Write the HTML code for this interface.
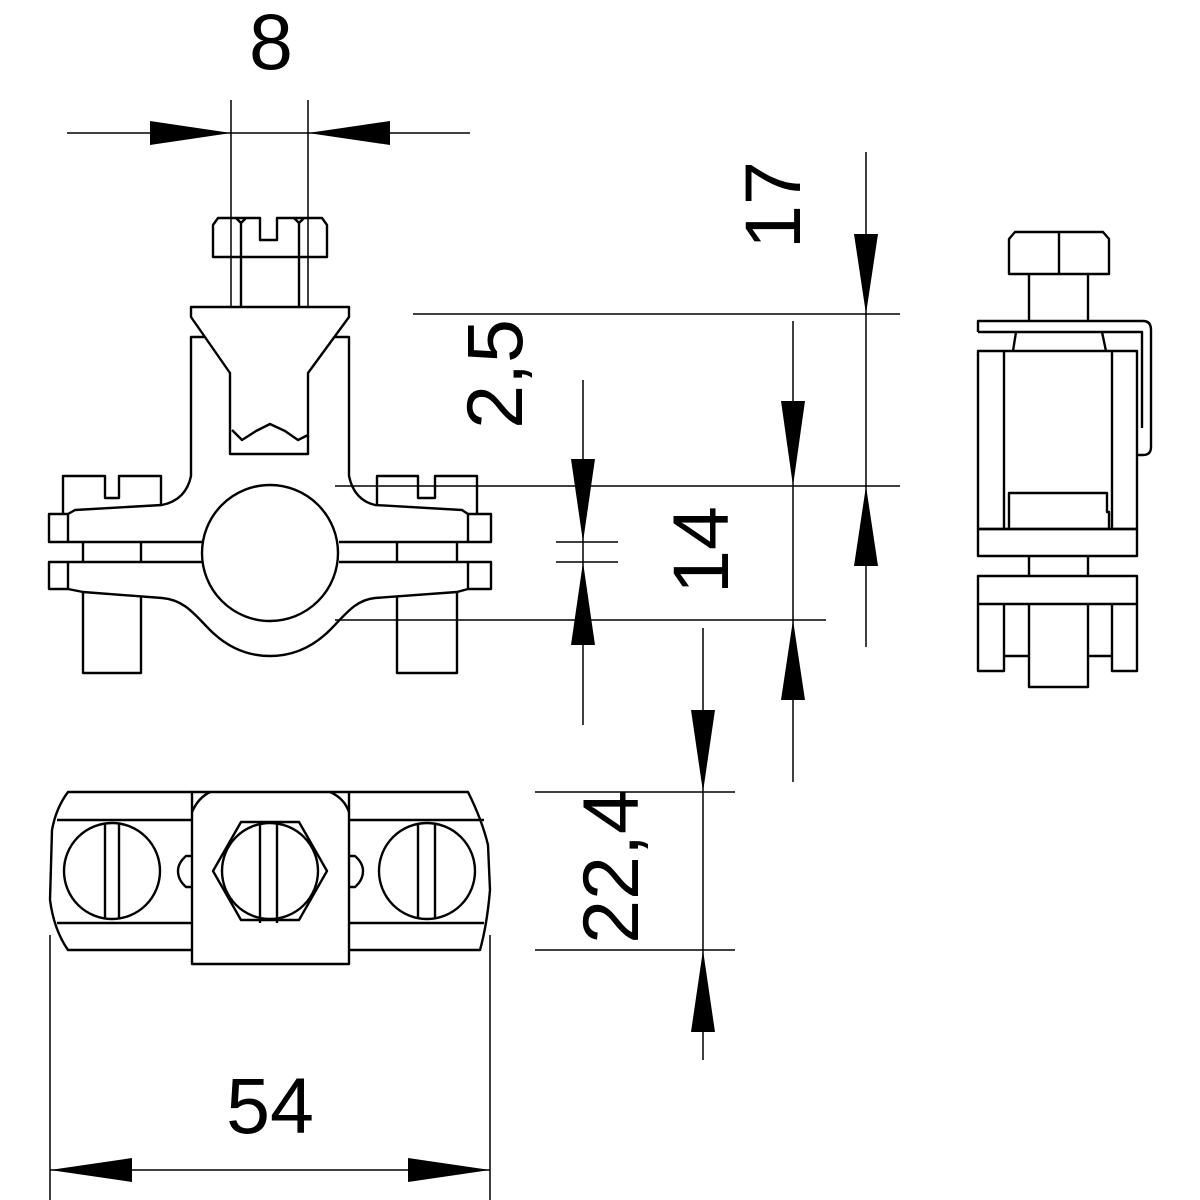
<!DOCTYPE html>
<html><head><meta charset="utf-8"><style>
html,body{margin:0;padding:0;background:#fff;}
svg{display:block;}
text{font-family:"Liberation Sans",sans-serif;font-size:79px;fill:#000;}
</style></head><body>
<svg width="1200" height="1200" viewBox="0 0 1200 1200" xmlns="http://www.w3.org/2000/svg">
<g fill="none" stroke="#000" stroke-width="1.5">
  <line x1="67" y1="133" x2="470" y2="133"/>
  <line x1="231" y1="100" x2="231" y2="307"/>
  <line x1="308" y1="100" x2="308" y2="307"/>
  <line x1="866" y1="152" x2="866" y2="647"/>
  <line x1="413" y1="314" x2="900" y2="314"/>
  <line x1="335" y1="486" x2="900" y2="486"/>
  <line x1="793" y1="321" x2="793" y2="782"/>
  <line x1="335" y1="620" x2="826" y2="620"/>
  <line x1="583" y1="380" x2="583" y2="725"/>
  <line x1="556" y1="542" x2="618" y2="542"/>
  <line x1="556" y1="562" x2="618" y2="562"/>
  <line x1="703" y1="628" x2="703" y2="1060"/>
  <line x1="535" y1="792" x2="735" y2="792"/>
  <line x1="535" y1="950" x2="735" y2="950"/>
  <line x1="50" y1="935" x2="50" y2="1200"/>
  <line x1="490" y1="935" x2="490" y2="1200"/>
  <line x1="50" y1="1170" x2="490" y2="1170"/>
</g>
<g fill="#000">
  <polygon points="150,121 150,145 231,133"/>
  <polygon points="390,121 390,145 308,133"/>
  <polygon points="854,234 878,234 866,314"/>
  <polygon points="854,566 878,566 866,486"/>
  <polygon points="781,401 805,401 793,486"/>
  <polygon points="781,700 805,700 793,620"/>
  <polygon points="571,459 595,459 583,542"/>
  <polygon points="571,645 595,645 583,562"/>
  <polygon points="691,710 715,710 703,792"/>
  <polygon points="691,1032 715,1032 703,950"/>
  <polygon points="132,1158 132,1182 50,1170"/>
  <polygon points="408,1158 408,1182 490,1170"/>
</g>
<text x="271" y="69" text-anchor="middle">8</text>
<text x="270" y="1133" text-anchor="middle">54</text>
<text transform="translate(800,205) rotate(-90)" text-anchor="middle">17</text>
<text transform="translate(522,374) rotate(-90)" text-anchor="middle">2,5</text>
<text transform="translate(728,550) rotate(-90)" text-anchor="middle">14</text>
<text transform="translate(638,867) rotate(-90)" text-anchor="middle">22,4</text>

<g fill="none" stroke="#000" stroke-width="2.4" stroke-linejoin="round">
  <path d="M213,225 L218,218 L260,218 L260,240 L277,240 L277,218 L322,218 L327,225 L327,257 L213,257 Z"/>
  <path d="M241,257 L241,223 L236,218 M241,223 L246,218 M299,257 L299,223 L294,218 M299,223 L304,218"/>
  <line x1="241" y1="257" x2="241" y2="307"/>
  <line x1="299" y1="257" x2="299" y2="307"/>
  <path d="M191,307 L349,307 L349,317 L308,373 L308,454 L230,454 L230,373 L191,317 Z"/>
  <path d="M232,430 L242,440 L256,431 L270,424 L285,431 L298,440 L308,435"/>
  <path d="M205,337 L191,337 L191,476 Q186,500 162,505"/>
  <path d="M335,337 L349,337 L349,476 Q354,500 375,505"/>
  <path d="M63,513 L63,476 L105,476 L105,498 L119,498 L119,476 L161,476 L161,505"/>
  <path d="M377,505 L377,476 L418,476 L418,498 L435,498 L435,476 L477,476 L477,513"/>
  <path d="M68,514 L75,510 L162,505"/>
  <path d="M375,505 L462,510 L468,514"/>
  <line x1="68" y1="542" x2="202" y2="542"/>
  <line x1="339" y1="542" x2="468" y2="542"/>
  <circle cx="270" cy="553" r="68"/>
  <rect x="49" y="514" width="19" height="28"/>
  <rect x="468" y="514" width="23" height="28"/>
  <rect x="49" y="562" width="19" height="27"/>
  <rect x="468" y="562" width="23" height="27"/>
  <line x1="83" y1="542" x2="83" y2="562"/>
  <line x1="141" y1="542" x2="141" y2="562"/>
  <line x1="397" y1="542" x2="397" y2="562"/>
  <line x1="457" y1="542" x2="457" y2="562"/>
  <line x1="68" y1="562" x2="202" y2="562"/>
  <line x1="339" y1="562" x2="468" y2="562"/>
  <path d="M68,589 L83,592 L162,598 C185,600 195,615 210,630 C225,645 245,656 270,656 C295,656 315,645 330,630 C345,615 355,600 375,598 L457,592 L468,589"/>
  <path d="M83,592 L83,673 L141,673 L141,597"/>
  <path d="M397,596 L397,673 L457,673 L457,592"/>

  <path d="M1009,239 L1015,232 L1103,232 L1109,239 L1109,274 L1009,274 Z"/>
  <line x1="1059" y1="232" x2="1059" y2="274"/>
  <line x1="1029" y1="274" x2="1029" y2="321"/>
  <line x1="1088" y1="274" x2="1088" y2="321"/>
  <path d="M978,332 L978,321 L1143,321 Q1151,321 1151,330 L1151,447 Q1151,455 1143,455 L1137,455"/>
  <path d="M978,332 L1142,332 L1142,428"/>
  <path d="M1016,332 L1013,351 M1102,332 L1106,351"/>
  <rect x="978" y="351" width="159" height="178"/>
  <line x1="1004" y1="351" x2="1004" y2="529"/>
  <line x1="1112" y1="351" x2="1112" y2="529"/>
  <path d="M1009,529 L1009,493 L1107,493 L1107,512 L1109,512 L1109,529"/>
  <rect x="978" y="529" width="159" height="27"/>
  <line x1="1029" y1="556" x2="1029" y2="576"/>
  <line x1="1088" y1="556" x2="1088" y2="576"/>
  <rect x="978" y="576" width="159" height="28"/>
  <path d="M978,604 L978,671 L1004,671 L1004,604"/>
  <path d="M1112,604 L1112,671 L1137,671 L1137,604"/>
  <path d="M1004,656 L1029,656 M1088,656 L1112,656"/>
  <path d="M1029,604 L1029,687 L1088,687 L1088,604"/>

  <path d="M192,792 L68,792 Q56,808 52,830 L50,900 Q54,930 68,950 L192,950"/>
  <path d="M349,792 L468,792 Q482,820 488,845 L490,890 Q487,925 480,950 L349,950"/>
  <line x1="57" y1="820" x2="192" y2="820"/>
  <line x1="57" y1="923" x2="192" y2="923"/>
  <line x1="349" y1="820" x2="484" y2="820"/>
  <line x1="349" y1="923" x2="484" y2="923"/>
  <rect x="192" y="792" width="157" height="172"/>
  <path d="M192,812 Q198,798 210,792 M330,792 Q344,798 349,812"/>
  <polygon points="213,871 241,822 299,822 327,871 299,920 241,920"/>
  <circle cx="270" cy="871" r="48"/>
  <line x1="260" y1="822" x2="260" y2="923"/>
  <line x1="277" y1="822" x2="277" y2="923"/>
  <circle cx="112" cy="871" r="48"/>
  <path d="M105,823 L105,919 M119,823 L119,919"/>
  <circle cx="427" cy="871" r="48"/>
  <path d="M418,823 L418,919 M435,823 L435,919"/>
  <path d="M192,856 L186,856 Q178,863 178,871 Q178,880 186,887 L192,887"/>
  <path d="M349,856 L355,856 Q363,863 363,871 Q363,880 355,887 L349,887"/>
</g>
</svg>
</body></html>
